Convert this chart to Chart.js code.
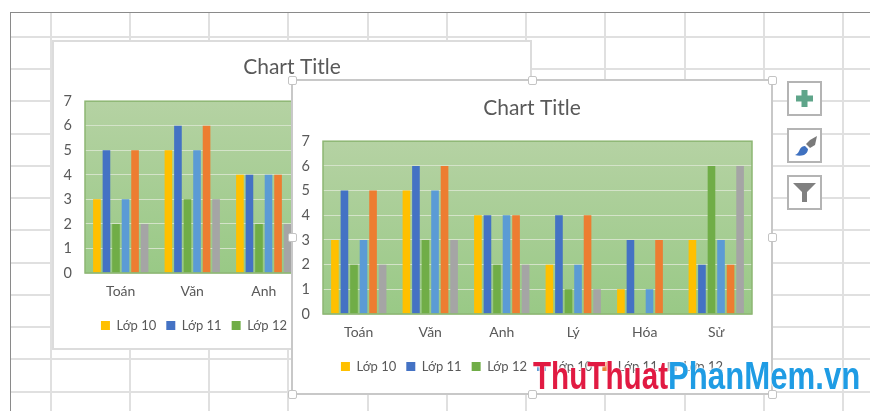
<!DOCTYPE html>
<html><head><meta charset="utf-8">
<script src="https://cdn.jsdelivr.net/npm/chart.js@4/dist/chart.umd.min.js"></script>
<style>
html,body{margin:0;padding:0;background:#fff;overflow:hidden}
#page{position:relative;width:870px;height:411px;overflow:hidden;background:#fff}
.v,.h{position:absolute;background:#e0e0e0}
.v{width:2px;top:12px;bottom:0}
.h{height:2px;left:10px;right:0}
.box{position:absolute;background:#fff;box-sizing:border-box}
canvas{position:absolute;left:0;top:0}
.handle{position:absolute;width:9px;height:9px;background:#fff;border:1.5px solid #c4c4c4;border-radius:2px;box-sizing:border-box;z-index:5}
.btn{position:absolute;left:787px;width:35px;height:35px;box-sizing:border-box;border:2px solid #b4b4b4;background:#fff;z-index:5}
.btn svg{position:absolute;left:0;top:0}
.wm{position:absolute;top:355px;z-index:9;font:bold 38px "Liberation Sans",sans-serif;white-space:nowrap;transform-origin:0 0;text-shadow:0 0 2px #fff,0 0 2px #fff,0 0 3px #fff}
</style></head><body>
<div id="page">
 <div id="grid"></div>
 <div class="box" id="backBox" style="left:52px;top:40px;width:480px;height:310px;border:2px solid #dcdcdc"></div>
 <canvas id="backChart" width="480" height="310" style="left:52px;top:40px;z-index:2"></canvas>
 <div class="box" id="frontBox" style="left:291px;top:79px;width:482px;height:316px;border:2px solid #c8c8c8;z-index:3"></div>
 <canvas id="frontChart" width="480" height="314" style="left:292px;top:80px;z-index:4"></canvas>
 <div id="handles"></div>
 <div class="btn" style="top:81px"><svg width="31" height="31"><path d="M12.5 7h6v5.500H24v6h-5.500V24h-6v-5.500H7v-6h5.500z" fill="#5fa58a"/></svg></div>
 <div class="btn" style="top:128px"><svg width="31" height="31"><path d="M28 6l-2 9-5 3-4-4 4-4z" fill="#7a7a7a"/><path d="M6 25c3-1 4-4 5-6 1-2 3-3 5-3l3 3c0 3-2 5-4 6-3 1-6 1-9 0z" fill="#3f71c0"/></svg></div>
 <div class="btn" style="top:175px"><svg width="31" height="31"><path d="M4 6h23l-9 9v10h-5V15z" fill="#808080"/></svg></div>
 <div class="wm" id="wmR" style="left:533px;color:#e11a42">ThuThuat</div>
 <div class="wm" id="wmB" style="left:668px;color:#1f9ce4">PhanMem.vn</div>
</div>
<script>
const categories = ["Toán","Văn","Anh","Lý","Hóa","Sử"];
const seriesNames = ["Lớp 10","Lớp 11","Lớp 12","Lớp 10","Lớp 11","Lớp 12"];
const seriesColors = ["#ffc000","#4472c4","#70ad47","#5b9bd5","#ed7d31","#a5a5a5"];
const lop10a = [3,5,4,2,1,3];
const lop11a = [5,6,4,4,3,2];
const lop12a = [2,3,2,1,0,6];
const lop10b = [3,5,4,2,1,3];
const lop11b = [5,6,4,4,3,2];
const lop12b = [2,3,2,1,0,6];
const allSeries = [lop10a,lop11a,lop12a,lop10b,lop11b,lop12b];
const yTicks = [0,1,2,3,4,5,6,7];
const titleText = "Chart Title";

const gridX=[50,129,208,287,367,446,525,604,684,763,842];
const gridY=[36,68,100,133,165,197,229,262,294,326,358,391];
const g=document.getElementById('grid');
gridX.forEach(x=>{const d=document.createElement('div');d.className='v';d.style.left=x+'px';g.appendChild(d)});
gridY.forEach(y=>{const d=document.createElement('div');d.className='h';d.style.top=y+'px';g.appendChild(d)});
g.insertAdjacentHTML('beforeend','<div style="position:absolute;left:10px;top:12px;right:0;height:1px;background:#8a8a8a"></div><div style="position:absolute;left:10px;top:12px;bottom:0;width:1px;background:#8a8a8a"></div>');

[[292,80],[532,80],[772,80],[292,237],[772,237],[292,394],[532,394],[772,394]].forEach(p=>{
 const d=document.createElement('div');d.className='handle';d.style.left=(p[0]-4.5)+'px';d.style.top=(p[1]-4.5)+'px';
 document.getElementById('handles').appendChild(d);
});
[['wmR',135],['wmB',192]].forEach(([id,w])=>{const e=document.getElementById(id);e.style.transform='scaleX('+(w/e.offsetWidth)+')'});

const plotBg={id:'plotBg',beforeDraw(c){const a=c.chartArea,x=c.ctx;
 const gr=x.createLinearGradient(0,a.top,0,a.bottom);gr.addColorStop(0,'#b5d2a3');gr.addColorStop(1,'#99c986');
 x.save();x.fillStyle=gr;x.fillRect(a.left,a.top,a.width,a.height);x.restore();},
 afterDatasetsDraw(c){const a=c.chartArea,x=c.ctx;x.save();x.strokeStyle='#8db673';x.lineWidth=1.5;x.strokeRect(a.left,a.top,a.width,a.height);x.restore();}};

const FONT="Lato, 'Noto Sans', sans-serif";
function make(id,pad){
 return new Chart(document.getElementById(id),{
  type:'bar',
  data:{labels:categories,datasets:allSeries.map((d,i)=>({label:seriesNames[i],data:d,backgroundColor:seriesColors[i],categoryPercentage:0.8,barPercentage:0.8}))},
  plugins:[plotBg],
  options:{responsive:false,animation:false,
   layout:{padding:{left:0,right:0,top:pad.top,bottom:pad.bottom}},
   plugins:{
    title:{display:true,text:titleText,color:'#595959',font:{family:FONT,size:21,weight:'normal'},padding:{top:0,bottom:pad.titleBottom}},
    legend:{position:'bottom',labels:{boxWidth:9,boxHeight:9,padding:10,color:'#595959',font:{family:FONT,size:13}}},
    tooltip:{enabled:false}
   },
   scales:{
    x:{grid:{display:false},border:{display:false},ticks:{color:'#595959',padding:pad.xPad,font:{family:FONT,size:14}},afterFit(s){s.height=pad.xH}},
    y:{min:0,max:7,grid:{color:'#d4e3c9',lineWidth:1,drawTicks:false},border:{display:false},
       afterBuildTicks(s){s.ticks=yTicks.map(v=>({value:v}))},
       ticks:{color:'#595959',padding:13,font:{family:FONT,size:14.5}},afterFit(s){s.width=pad.yW}},
    spacer:{type:'linear',position:'right',grid:{display:false},border:{display:false},ticks:{display:false},afterFit(s){s.width=pad.rightW}}
   }
  }
 });
}
make('backChart',{top:15,bottom:8,titleBottom:21,xH:36,xPad:2.5,yW:33,rightW:18});
make('frontChart',{top:16,bottom:11,titleBottom:20,xH:36,xPad:2,yW:31,rightW:20});
</script>
</body></html>
